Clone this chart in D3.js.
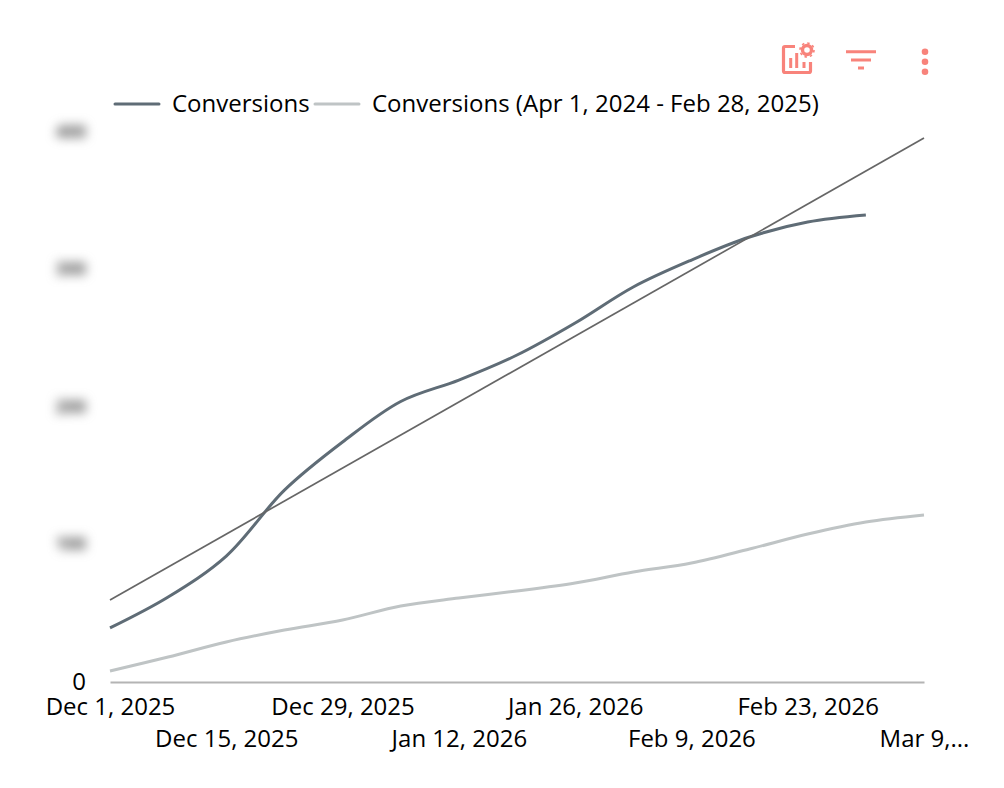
<!DOCTYPE html>
<html>
<head>
<meta charset="utf-8">
<script src="https://cdn.jsdelivr.net/npm/d3@7"></script>
<style>
  html, body { margin: 0; padding: 0; background: #fff; }
  text { font-family: "Open Sans", sans-serif; fill: #000; }
  .blurred text { filter: blur(5.5px); fill: #666; font-size: 17px; font-weight: 800; }
</style>
</head>
<body>
<div id="chart"></div>
<script>
// weekly points
var weeks = ["2025-12-01","2025-12-08","2025-12-15","2025-12-22","2025-12-29","2026-01-05","2026-01-12","2026-01-19","2026-01-26","2026-02-02","2026-02-09","2026-02-16","2026-02-23","2026-03-02","2026-03-09"];
var conversions = [39.3,61.8,91.6,139.5,174.5,204,219.6,237.8,261.1,287.3,306.9,323.6,334.5,339.6];
var previous = [8,18.2,29.1,37.8,45.1,55.3,61.1,66.2,72,80,86.5,96.7,107.6,116.4,121.5];
var trendDates = ["2025-12-01","2026-03-09"];
var trendValues = [59.6,395.6];
var tickDates = ["2025-12-01","2025-12-15","2025-12-29","2026-01-12","2026-01-26","2026-02-09","2026-02-23","2026-03-09"];
var tickLabels = ["Dec 1, 2025","Dec 15, 2025","Dec 29, 2025","Jan 12, 2026","Jan 26, 2026","Feb 9, 2026","Feb 23, 2026","Mar 9,..."];
var yTicks = [0,100,200,300,400];
var legendLabels = ["Conversions","Conversions (Apr 1, 2024 - Feb 28, 2025)"];

var svgWidth = 1004;
var svgHeight = 788;
var iconColor = "#f8837b";
var darkColor = "#5f6c76";
var lightColor = "#bfc4c5";

var svg = d3.select("#chart")
  .append("svg")
  .attr("width", svgWidth)
  .attr("height", svgHeight)
  .style("display", "block");

var parseDate = d3.utcParse("%Y-%m-%d");

var xScale = d3.scaleUtc()
  .domain([parseDate(weeks[0]), parseDate(weeks[weeks.length - 1])])
  .range([110, 924]);

var yScale = d3.scaleLinear()
  .domain([0, 400])
  .range([682, 132]);

var line = d3.line()
  .x(d => xScale(d.date))
  .y(d => yScale(d.value))
  .curve(d3.curveCatmullRom.alpha(0.5));

function toPoints(dates, values) {
  return values.map((v, i) => ({ date: parseDate(dates[i]), value: v }));
}

// x axis, labels staggered on two rows
var bottomAxis = d3.axisBottom(xScale)
  .tickValues(tickDates.map(parseDate))
  .tickSize(0)
  .tickFormat((d, i) => tickLabels[i]);

var xAxis = svg.append("g")
  .attr("transform", "translate(0, 682)")
  .call(bottomAxis);
xAxis.select(".domain").attr("stroke", "#b4b4b4").attr("stroke-width", 2);
xAxis.selectAll("text")
  .attr("font-size", 24)
  .attr("dy", null)
  .attr("y", (d, i) => i % 2 ? 65 : 33)
  .style("font-family", '"Open Sans", sans-serif');

// y labels: 0 is sharp, the others are blurred in the reference
var leftAxis = d3.axisLeft(yScale)
  .tickValues(yTicks)
  .tickSize(0)
  .tickPadding(24);

var yAxis = svg.append("g")
  .attr("transform", "translate(110, 0)")
  .call(leftAxis);
yAxis.select(".domain").remove();
yAxis.selectAll("text")
  .attr("font-size", 24)
  .style("font-family", '"Open Sans", sans-serif');
yAxis.selectAll(".tick")
  .classed("blurred", d => d !== 0);

// lines
svg.append("path")
  .datum(toPoints(weeks, previous))
  .attr("fill", "none")
  .attr("stroke", lightColor)
  .attr("stroke-width", 3)
  .attr("d", line);

svg.append("path")
  .datum(toPoints(weeks, conversions))
  .attr("fill", "none")
  .attr("stroke", darkColor)
  .attr("stroke-width", 3)
  .attr("d", line);

svg.append("path")
  .datum(toPoints(trendDates, trendValues))
  .attr("fill", "none")
  .attr("stroke", "#666666")
  .attr("stroke-width", 1.7)
  .attr("d", line);

// legend
var legendLines = [[115, 159, darkColor, 172], [315, 359, lightColor, 372]];
legendLines.forEach(function(l, i) {
  svg.append("line")
    .attr("x1", l[0]).attr("x2", l[1])
    .attr("y1", 104).attr("y2", 104)
    .attr("stroke", l[2])
    .attr("stroke-width", 3)
    .attr("stroke-linecap", "round");
  svg.append("text")
    .attr("x", l[3])
    .attr("y", 112)
    .attr("font-size", 24)
    .text(legendLabels[i]);
});

// toolbar icons
var chartIcon = svg.append("g").attr("fill", "none").attr("stroke", iconColor);
chartIcon.append("path")
  .attr("d", "M795 46.5 H785 Q783.5 46.5 783.5 48 V71 Q783.5 72.5 785 72.5 H809 Q810.5 72.5 810.5 71 V62")
  .attr("stroke-width", 3.2);
chartIcon.append("path")
  .attr("d", "M790.7 58 V68 M796.7 53 V68 M804 62 V68")
  .attr("stroke-width", 3);
chartIcon.append("circle")
  .attr("cx", 807).attr("cy", 50)
  .attr("r", 4.5)
  .attr("stroke-width", 3.4);
chartIcon.append("circle")
  .attr("cx", 807).attr("cy", 50)
  .attr("r", 7)
  .attr("stroke-width", 1.6)
  .attr("stroke-dasharray", "2.5 3");

svg.append("path")
  .attr("d", "M846 51.7 H876 M851 60 H871 M858 68 H864")
  .attr("stroke", iconColor)
  .attr("stroke-width", 3)
  .attr("fill", "none");

[51.7, 61.7, 71.7].forEach(function(cy) {
  svg.append("circle")
    .attr("cx", 925).attr("cy", cy)
    .attr("r", 3.3)
    .attr("fill", iconColor);
});
</script>
</body>
</html>
